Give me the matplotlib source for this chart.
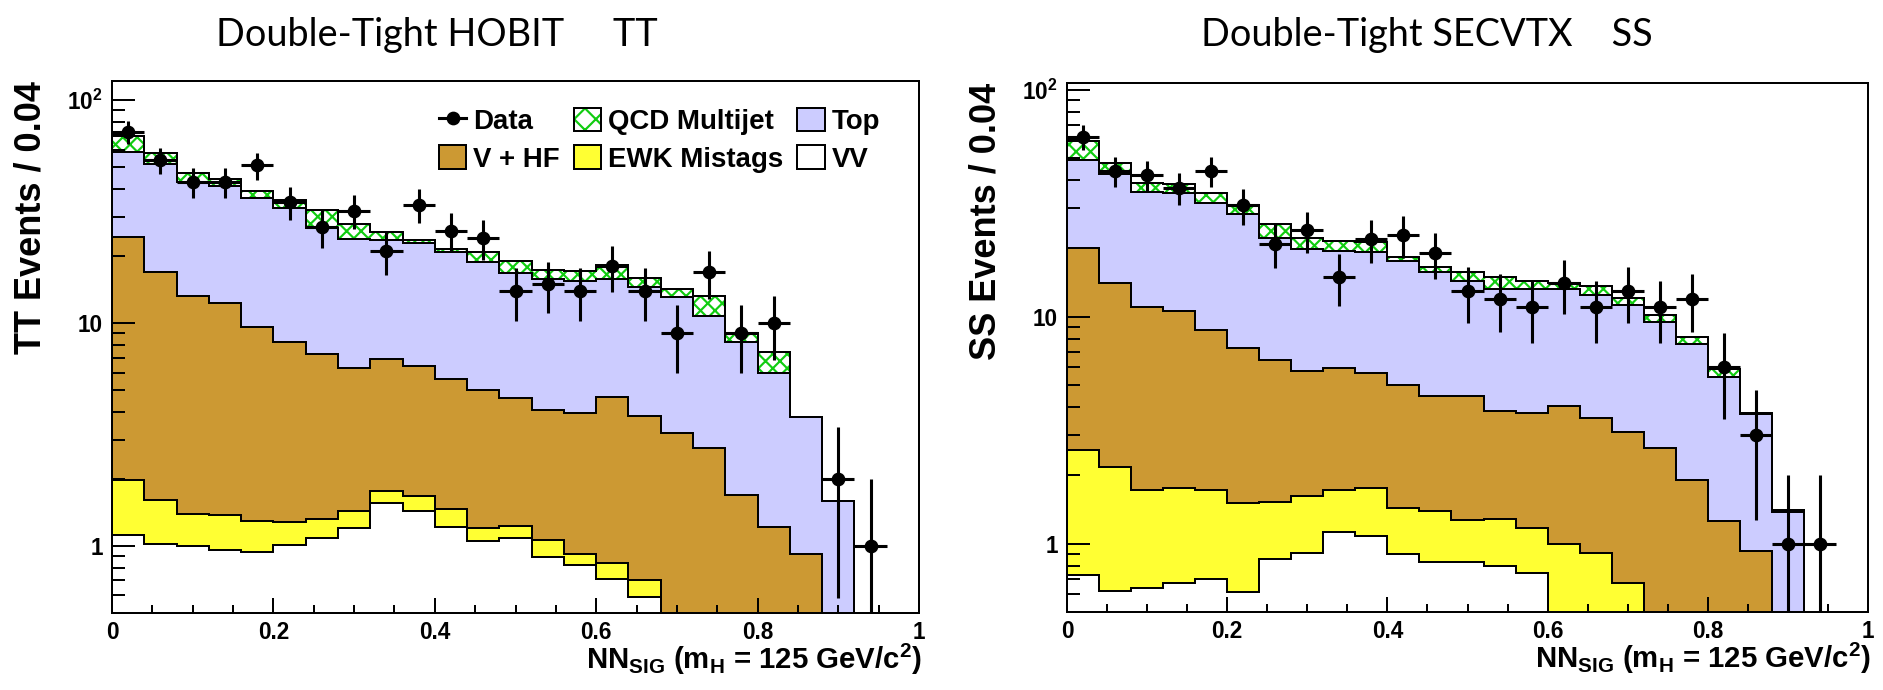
import numpy as np
import matplotlib
matplotlib.use("Agg")
import matplotlib.pyplot as plt
from matplotlib.patches import Patch
from matplotlib.lines import Line2D
from matplotlib.legend_handler import HandlerTuple
from matplotlib.ticker import FixedLocator, FixedFormatter, LogLocator, MultipleLocator, NullFormatter

plt.rcParams['font.family'] = ['Liberation Sans', 'DejaVu Sans']
plt.rcParams['font.weight'] = 'bold'
plt.rcParams['mathtext.default'] = 'regular'
plt.rcParams['hatch.linewidth'] = 1.2

# NN output bins, 25 bins of 0.04
nbins = 25
bin_w = 0.04

# ---- Double-Tight HOBIT (TT) ----
tt_vv = [1.12, 1.02, 1.00, 0.96, 0.94, 1.01, 1.09, 1.20, 1.56, 1.44, 1.22, 1.05, 1.09,
         0.89, 0.82, 0.71, 0.59, 0.40, 0.35, 0.30, 0.22, 0.15, 0.08, 0.0, 0.0]
tt_ewk = [0.85, 0.59, 0.39, 0.42, 0.35, 0.27, 0.23, 0.24, 0.21, 0.23, 0.25, 0.15, 0.14,
          0.17, 0.10, 0.13, 0.11, 0.05, 0.05, 0.04, 0.03, 0.02, 0.01, 0.0, 0.0]
tt_vhf = [22.43, 15.29, 11.81, 10.92, 8.31, 6.92, 5.98, 4.86, 5.13, 4.73, 4.13, 3.80, 3.37,
          3.01, 3.02, 3.80, 3.13, 2.75, 2.34, 1.36, 0.97, 0.75, 0.31, 0.0, 0.0]
tt_top = [34.2, 34.7, 29.6, 28.8, 27.0, 24.5, 19.5, 17.5, 16.8, 16.5, 15.2, 13.8, 12.2,
          11.63, 11.56, 11.16, 10.67, 9.9, 8.06, 6.5, 4.78, 2.88, 1.19, 0.0, 0.0]
tt_qcd = [10.5, 6.2, 4.3, 3.4, 2.5, 2.9, 5.4, 4.0, 1.8, 0.8, 0.7, 2.1, 2.1,
          1.6, 1.6, 2.4, 1.5, 1.1, 2.4, 0.8, 1.4, 0.0, 0.0, 0.0, 0.0]
tt_data = [72, 54, 43, 43, 51, 35, 27, 32, 21, 34, 26, 24, 14,
           15, 14, 18, 14, 9, 17, 9, 10, 0, 2, 1, 0]

# ---- Double-Tight SECVTX (SS) ----
ss_vv = [0.73, 0.62, 0.64, 0.67, 0.70, 0.61, 0.86, 0.91, 1.12, 1.08, 0.90, 0.83, 0.83,
         0.80, 0.74, 0.30, 0.25, 0.20, 0.10, 0.05, 0.02, 0.01, 0.0, 0.0, 0.0]
ss_ewk = [1.85, 1.55, 1.08, 1.09, 1.02, 0.90, 0.66, 0.72, 0.61, 0.68, 0.54, 0.56, 0.44,
          0.48, 0.43, 0.70, 0.66, 0.47, 0.35, 0.25, 0.08, 0.04, 0.01, 0.0, 0.0]
ss_vhf = [17.42, 11.83, 9.28, 8.84, 7.01, 5.80, 4.93, 4.11, 4.20, 3.88, 3.58, 3.10, 3.18,
          2.58, 2.58, 3.04, 2.68, 2.42, 2.18, 1.60, 1.16, 0.88, 0.44, 0.0, 0.0]
ss_top = [28.8, 28.3, 24.4, 24.6, 22.87, 20.99, 15.85, 14.16, 13.57, 13.66, 12.48, 11.21, 9.95,
          9.34, 9.55, 9.26, 8.81, 8.21, 6.87, 5.66, 4.14, 2.78, 0.93, 0.0, 0.0]
ss_qcd = [10.9, 5.3, 3.5, 3.4, 3.6, 2.6, 3.3, 2.4, 2.1, 2.1, 0.9, 0.9, 1.3,
          1.7, 1.1, 0.8, 1.3, 0.8, 0.7, 0.61, 0.48, 0.06, 0.02, 0.0, 0.0]
ss_data = [62, 44, 42, 37, 44, 31, 21, 24, 15, 22, 23, 19, 13,
           12, 11, 14, 11, 13, 11, 12, 6, 3, 1, 1, 0]

labels = ['VV', 'EWK Mistags', 'V + HF', 'Top', 'QCD Multijet']
colors = ['white', '#ffff33', '#cc9933', '#ccccff', 'white']
hatch_col = '#11cc11'

DPI = 130

edges = np.arange(nbins + 1) * bin_w
centers = edges[:-1] + bin_w / 2


def draw_panel(ax, comps, data, ylab, ymax):
    cum = np.cumsum(np.array(comps, dtype=float), axis=0)
    # draw from the top of the stack down, like THStack
    for i in range(len(comps) - 1, -1, -1):
        if i == 4:
            ax.stairs(cum[i], edges, baseline=1e-3, fill=True, facecolor='white',
                      edgecolor=hatch_col, linewidth=0, hatch='xxx')
        else:
            ax.stairs(cum[i], edges, baseline=1e-3, fill=True, facecolor=colors[i],
                      linewidth=0)
        ax.stairs(cum[i], edges, baseline=1e-3, fill=False, color='black', linewidth=1.1)

    d = np.array(data, dtype=float)
    m = d > 0
    err = np.sqrt(d[m])
    lo = np.minimum(err, d[m] * 0.9999)
    ax.errorbar(centers[m], d[m], xerr=bin_w / 2, yerr=[lo, err], fmt='o', color='black',
                ms=6.6, elinewidth=1.7, capsize=0, zorder=5)

    ax.set_yscale('log')
    ax.set_xlim(0, 1)
    ax.set_ylim(0.5, ymax)

    ax.xaxis.set_major_locator(FixedLocator([0, 0.2, 0.4, 0.6, 0.8, 1.0]))
    ax.xaxis.set_major_formatter(FixedFormatter(['0', '0.2', '0.4', '0.6', '0.8', '1']))
    ax.xaxis.set_minor_locator(MultipleLocator(0.05))
    ax.yaxis.set_major_locator(FixedLocator([1, 10, 100]))
    ax.yaxis.set_major_formatter(FixedFormatter(['1', '10', '$10^{2}$']))
    ax.yaxis.set_minor_locator(LogLocator(base=10, subs=np.arange(2, 10)))
    ax.yaxis.set_minor_formatter(NullFormatter())

    ax.tick_params(axis='both', which='both', direction='in', top=False, right=False,
                   width=1.1, labelsize=12.5)
    ax.tick_params(axis='x', which='major', length=8.3, pad=4.5)
    ax.tick_params(axis='x', which='minor', length=4.4)
    ax.tick_params(axis='y', which='major', length=12.7, pad=5)
    ax.tick_params(axis='y', which='minor', length=7.2)
    for s in ax.spines.values():
        s.set_linewidth(1.1)

    ax.set_ylabel(ylab, fontsize=20, fontweight='bold', loc='top')
    ax.set_xlabel('NN$_{SIG}$ (m$_{H}$ = 125 GeV/c$^{2}$)', fontsize=16.3,
                  fontweight='bold', loc='right')
    ax.xaxis.set_label_coords(1.004, -0.055)
    ax.yaxis.set_label_coords(-0.079, 1.0)


fig = plt.figure(figsize=(1883 / DPI, 690 / DPI), dpi=DPI)
ax1 = fig.add_axes([112 / 1883, 77 / 690, 807 / 1883, 532 / 690])
ax2 = fig.add_axes([1067 / 1883, 78 / 690, 801 / 1883, 529 / 690])

draw_panel(ax1, [tt_vv, tt_ewk, tt_vhf, tt_top, tt_qcd], tt_data, 'TT Events / 0.04', 122)
draw_panel(ax2, [ss_vv, ss_ewk, ss_vhf, ss_top, ss_qcd], ss_data, 'SS Events / 0.04', 107)

# legend (left panel only)
h_data = Line2D([], [], color='black', marker='o', ms=6.6, lw=1.7)
h_vhf = Patch(facecolor=colors[2], edgecolor='black', linewidth=1.1)
h_qcd = (Patch(facecolor='white', edgecolor=hatch_col, linewidth=0, hatch='xx'),
         Patch(facecolor='none', edgecolor='black', linewidth=1.1))
h_ewk = Patch(facecolor=colors[1], edgecolor='black', linewidth=1.1)
h_top = Patch(facecolor=colors[3], edgecolor='black', linewidth=1.1)
h_vv = Patch(facecolor='white', edgecolor='black', linewidth=1.1)
ax1.legend([h_data, h_vhf, h_qcd, h_ewk, h_top, h_vv],
           ['Data', 'V + HF', 'QCD Multijet', 'EWK Mistags', 'Top', 'VV'],
           handler_map={tuple: HandlerTuple(ndivide=1, pad=0)},
           ncol=3, loc='upper left', bbox_to_anchor=(0.405, 0.95), frameon=False,
           borderpad=0, borderaxespad=0, handlelength=1.0,
           handleheight=0.95, handletextpad=0.25, columnspacing=0.5, labelspacing=0.37,
           prop={'weight': 'bold', 'size': 15.3})

title_font = ['Lato', 'Open Sans', 'DejaVu Sans']
fig.text(216 / 1883, 1 - 46 / 690, 'Double-Tight HOBIT     TT', family=title_font,
         fontweight='normal', fontsize=21, ha='left', va='baseline')
fig.text(1201 / 1883, 1 - 46 / 690, 'Double-Tight SECVTX    SS', family=title_font,
         fontweight='normal', fontsize=21, ha='left', va='baseline')

fig.savefig('out.png', dpi=DPI)
